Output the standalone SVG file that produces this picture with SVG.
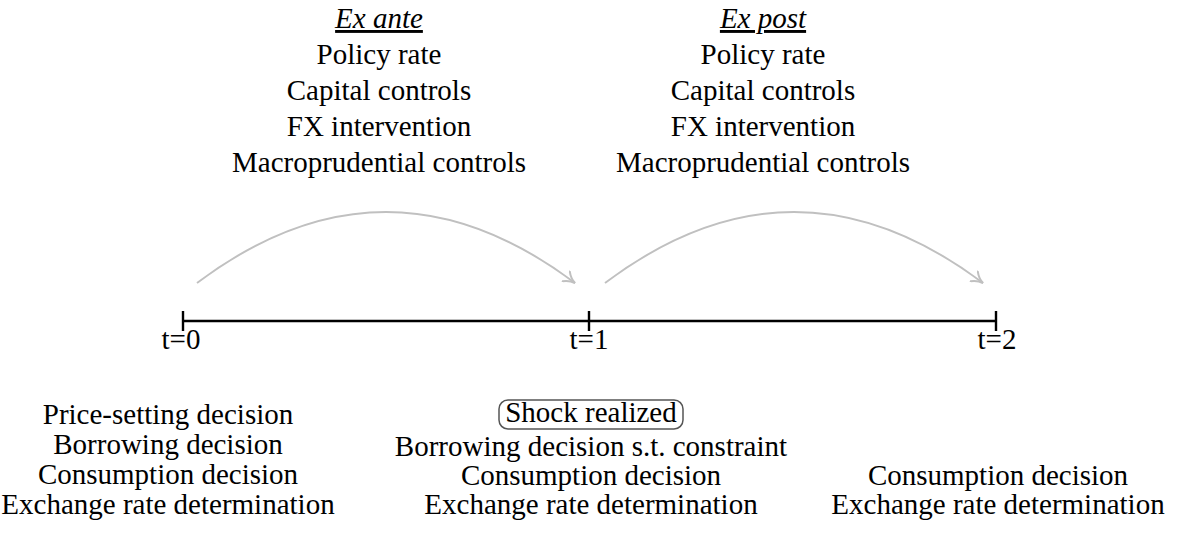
<svg xmlns="http://www.w3.org/2000/svg" width="1177" height="540" viewBox="0 0 1177 540">
<style>
text{font-family:"Liberation Serif","Times New Roman",serif;font-size:29px;fill:#000;text-anchor:middle}
.it{font-style:italic;text-decoration:underline}
.arc{fill:none;stroke:#c0c0c0;stroke-width:2}
.axis{stroke:#000;stroke-width:2.4;fill:none}
.box{fill:none;stroke:#555;stroke-width:1.5}
</style>
<defs>
<marker id="ah" viewBox="0 0 14 14" refX="12" refY="7" markerWidth="14" markerHeight="14" markerUnits="userSpaceOnUse" orient="auto">
<path d="M1,1 Q6,6 12,7 Q6,8 1,13" fill="none" stroke="#c0c0c0" stroke-width="2" stroke-linecap="round"/>
</marker>
</defs>
<rect width="1177" height="540" fill="#fff"/>
<g id="connectors">
<path class="arc" d="M197,283 Q386,141 575,283" marker-end="url(#ah)"/>
<path class="arc" d="M605,283 Q794,141 983,283" marker-end="url(#ah)"/>
</g>
<g id="timeline">
<line class="axis" x1="183" y1="321" x2="996" y2="321"/>
<line class="axis" x1="183" y1="311" x2="183" y2="331"/>
<line class="axis" x1="589" y1="311" x2="589" y2="331"/>
<line class="axis" x1="996" y1="311" x2="996" y2="331"/>
</g>
<g id="t0"><text x="181" y="349">t=0</text></g>
<g id="t1"><text x="589" y="349">t=1</text></g>
<g id="t2"><text x="997" y="349">t=2</text></g>
<g id="exante">
<text class="it" x="379" y="28">Ex ante</text>
<text x="379" y="64">Policy rate</text>
<text x="379" y="100">Capital controls</text>
<text x="379" y="136">FX intervention</text>
<text x="379" y="172">Macroprudential controls</text>
</g>
<g id="expost">
<text class="it" x="763" y="28">Ex post</text>
<text x="763" y="64">Policy rate</text>
<text x="763" y="100">Capital controls</text>
<text x="763" y="136">FX intervention</text>
<text x="763" y="172">Macroprudential controls</text>
</g>
<g id="period0">
<text x="168" y="424">Price-setting decision</text>
<text x="168" y="454">Borrowing decision</text>
<text x="168" y="484">Consumption decision</text>
<text x="168" y="514">Exchange rate determination</text>
</g>
<g id="period1">
<rect class="box" x="499" y="400" width="184" height="29" rx="9"/>
<text x="591" y="422">Shock realized</text>
<text x="591" y="456">Borrowing decision s.t. constraint</text>
<text x="591" y="485">Consumption decision</text>
<text x="591" y="514">Exchange rate determination</text>
</g>
<g id="period2">
<text x="998" y="485">Consumption decision</text>
<text x="998" y="514">Exchange rate determination</text>
</g>
</svg>
